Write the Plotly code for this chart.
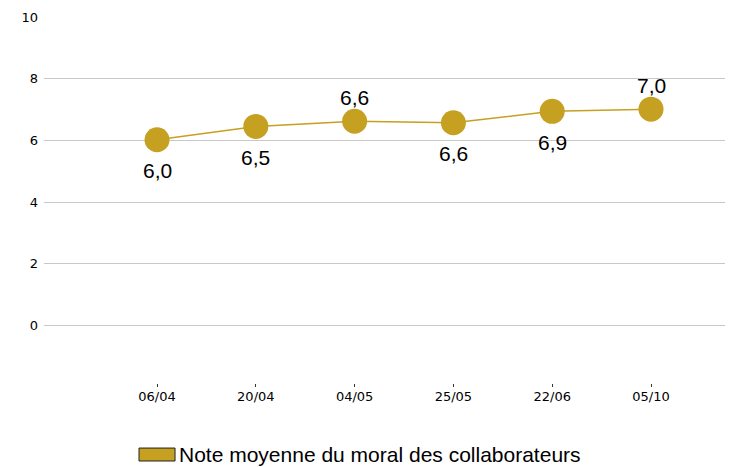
import plotly.graph_objects as go

# data
dates = ["06/04", "20/04", "04/05", "25/05", "22/06", "05/10"]
moral = [6.02, 6.45, 6.62, 6.57, 6.94, 7.01]
moral_labels = ["6,0", "6,5", "6,6", "6,6", "6,9", "7,0"]
label_above = [False, False, True, False, False, True]
y_ticks = [0, 2, 4, 6, 8, 10]
series_name = "Note moyenne du moral des collaborateurs"

gold = "#c5a021"

fig = go.Figure()
fig.add_trace(
    go.Scatter(
        x=dates,
        y=moral,
        mode="lines+markers",
        line=dict(color=gold, width=1.5),
        marker=dict(color=gold, size=25),
        showlegend=False,
        hoverinfo="skip",
    )
)

# value labels, alternately above / below the points
for d, v, lab, above in zip(dates, moral, moral_labels, label_above):
    fig.add_annotation(
        x=d,
        y=v,
        text=lab,
        showarrow=False,
        yanchor="middle",
        yshift=24 if above else -31,
        font=dict(family="Liberation Sans", size=21, color="black"),
    )

# legend drawn by hand: wide swatch + label (plot area is 697 px wide)
fig.add_shape(
    type="rect",
    xref="paper",
    yref="paper",
    x0=0.1363,
    x1=0.1880,
    y0=-0.2,
    y1=-0.165,
    fillcolor=gold,
    line=dict(color="#222222", width=1),
)
fig.add_annotation(
    xref="paper",
    yref="paper",
    x=0.1907,
    y=-0.182,
    xanchor="left",
    yanchor="middle",
    text=series_name,
    showarrow=False,
    font=dict(family="Liberation Sans", size=21, color="black"),
)

fig.update_xaxes(
    type="category",
    range=[-1.144, 5.911],
    showgrid=False,
    showline=False,
    zeroline=False,
    ticks="inside",
    ticklen=3,
    tickcolor="#333333",
    tickfont=dict(family="DejaVu Sans", size=13, color="black"),
)
fig.update_yaxes(
    range=[-2, 10],
    tickvals=y_ticks,
    showgrid=True,
    gridcolor="#c8c8c8",
    gridwidth=1,
    zeroline=False,
    showline=False,
    ticklabelstandoff=5,
    tickfont=dict(family="DejaVu Sans", size=13, color="black"),
)

# page body has an 8px margin
fig.update_layout(
    width=733,
    height=459,
    margin=dict(l=36, r=0, t=9, b=80),
    paper_bgcolor="white",
    plot_bgcolor="white",
)

fig.write_html("out.html")
